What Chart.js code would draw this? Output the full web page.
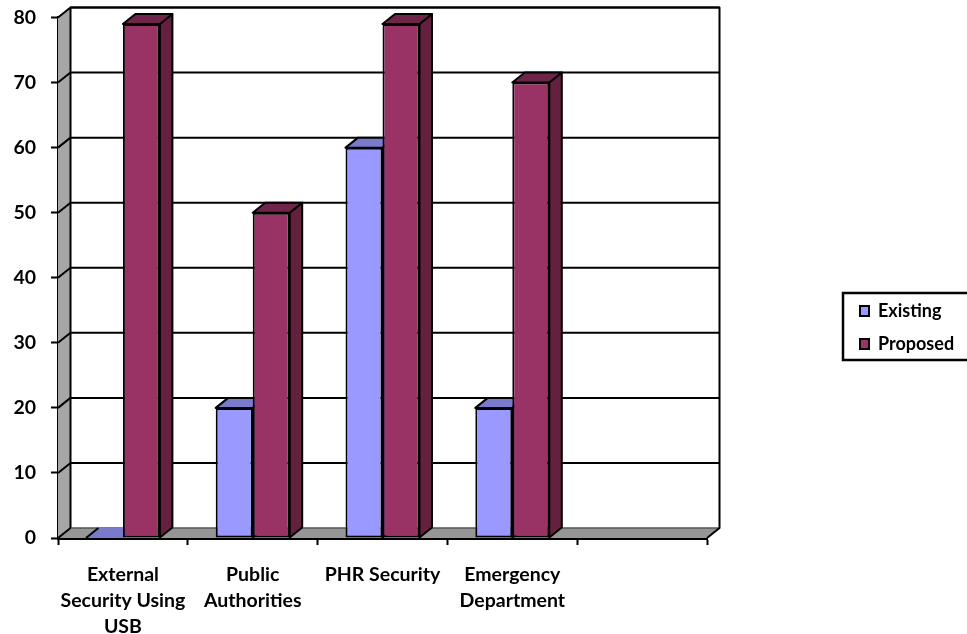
<!DOCTYPE html>
<html><head><meta charset="utf-8">
<style>html,body{margin:0;padding:0;background:#fff}canvas{display:block}</style>
<script src="https://cdn.jsdelivr.net/npm/chart.js@4/dist/chart.umd.min.js"></script>
</head><body><canvas id="c" width="967" height="634"></canvas>
<script>
const categories = [["External","Security Using","USB"],["Public","Authorities"],"PHR Security",["Emergency","Department"],""];
const existing = [0,20,60,20,null];
const proposed = [79,50,79,70,null];
const seriesNames = ["Existing","Proposed"];
const yTicks = [0,10,20,30,40,50,60,70,80];

const DX = 12.5, DY = 10;
const palette = [
  {front:"#9999ff", top:"#7a7acc", side:"#5c5c99"},
  {front:"#993366", top:"#6e2549", side:"#63203f"}
];
function poly(ctx, pts, fill, stroke, lw){
  ctx.beginPath();
  pts.forEach((p,i)=> i?ctx.lineTo(p[0],p[1]):ctx.moveTo(p[0],p[1]));
  ctx.closePath();
  if(fill){ctx.fillStyle=fill;ctx.fill();}
  if(stroke){ctx.strokeStyle=stroke;ctx.lineWidth=lw;ctx.stroke();}
}
const depth3d = {
  id:"depth3d",
  beforeLayout(chart){
    const lg = chart.legend;
    if(lg && !lg._wrapped){
      const f = lg.fit;
      lg.fit = function(){ f.call(this); this.width = 260; };
      lg._wrapped = true;
    }
  },
  afterLayout(chart){
    const lg = chart.legend;
    lg.left = 845; lg.right = 967; lg.width = 122;
    lg.top = 287; lg.bottom = 420; lg.height = 133;
    const y = chart.scales.y, a = chart.chartArea;
    y.top = 17.5; y.height = y.bottom - y.top; y.configure();
    a.top = y.top; a.height = a.bottom - a.top;
  },
  beforeDatasetsDraw(chart){
    const {ctx, scales:{x,y}, chartArea:a} = chart;
    const y0 = y.getPixelForValue(0), yT = y.getPixelForValue(80);
    ctx.save();
    ctx.lineJoin = "round";
    // side wall
    poly(ctx,[[a.left,yT],[a.left+DX,yT-DY],[a.left+DX,y0-DY],[a.left,y0]],"#a6a6a6");
    // floor
    poly(ctx,[[a.left,y0],[a.left+DX,y0-DY],[a.right+DX,y0-DY],[a.right,y0]],"#969696");
    ctx.strokeStyle="#555";ctx.lineWidth=1.5;
    ctx.beginPath();ctx.moveTo(a.left+DX,y0-DY);ctx.lineTo(a.right+DX,y0-DY);ctx.stroke();
    // back gridlines and wall gridlines
    ctx.strokeStyle="#000";ctx.lineWidth=2;
    yTicks.forEach(v=>{
      const p=y.getPixelForValue(v);
      ctx.beginPath();ctx.moveTo(a.left,p);ctx.lineTo(a.left+DX,p-DY);
      if(v>0) ctx.lineTo(a.right+DX,p-DY);
      ctx.stroke();
    });
    // back wall frame
    ctx.beginPath();
    ctx.moveTo(a.left+DX,y0-DY);ctx.lineTo(a.left+DX,yT-DY);ctx.lineTo(a.right+DX,yT-DY);
    ctx.lineTo(a.right+DX,y0-DY);ctx.lineTo(a.right,y0);ctx.stroke();
    // bar depth faces
    chart.data.datasets.forEach((ds,di)=>{
      chart.getDatasetMeta(di).data.forEach((bar,i)=>{
        if(ds.data[i]==null) return;
        const {x:cx,y:top,base,width}=bar.getProps(["x","y","base","width"]);
        const l=cx-width/2,r=cx+width/2,c=palette[di];
        if(ds.data[i]>0) poly(ctx,[[r,top],[r+DX,top-DY],[r+DX,base-DY],[r,base]],c.side,"#000",2);
        poly(ctx,[[l,top],[l+DX,top-DY],[r+DX,top-DY],[r,top]],c.top,ds.data[i]>0?"#000":null,2);
        if(!(ds.data[i]>0)){
          ctx.strokeStyle="#000";ctx.lineWidth=2;
          ctx.beginPath();ctx.moveTo(l,top);ctx.lineTo(l+DX,top-DY);ctx.stroke();
        }
      });
    });
    ctx.restore();
  },
  afterDraw(chart){
    const ctx=chart.ctx;
    ctx.save();
    ctx.strokeStyle="#000";ctx.lineWidth=2.5;
    ctx.strokeRect(843,293,130,67);
    ctx.restore();
  }
};
const font = {family:"Lato", weight:"bold", size:19.5};
new Chart(document.getElementById("c"),{
  type:"bar",
  data:{labels:categories,datasets:[
    {label:seriesNames[0],data:existing,backgroundColor:palette[0].front,borderColor:"#000",borderWidth:2,borderSkipped:false},
    {label:seriesNames[1],data:proposed,backgroundColor:palette[1].front,borderColor:"#000",borderWidth:2,borderSkipped:false}
  ]},
  plugins:[depth3d],
  options:{
    responsive:false,animation:false,
    layout:{autoPadding:false,padding:{top:12,left:0,right:0,bottom:0}},
    datasets:{bar:{categoryPercentage:0.57,barPercentage:1}},
    plugins:{
      tooltip:{enabled:false},
      legend:{position:"right",align:"start",labels:{color:"#000",boxWidth:9,boxHeight:10,padding:15,font:{family:"Lato",weight:"bold",size:18}}}
    },
    scales:{
      x:{
        afterFit(s){s.height=96;},
        grid:{display:true,drawOnChartArea:false,drawTicks:true,tickLength:7,tickWidth:2,tickColor:"#000",color:"#000"},
        border:{display:true,color:"#000",width:3},
        ticks:{color:"#000",font:{...font,lineHeight:1.333},padding:17,autoSkip:false,maxRotation:0,minRotation:0}
      },
      y:{
        min:0,max:80,
        afterFit(s){s.width=58;},
        grid:{display:true,drawOnChartArea:false,drawTicks:true,tickLength:7,tickWidth:2,tickColor:"#000",color:"#000"},
        border:{display:true,color:"#000",width:2.5},
        ticks:{color:"#000",font:{...font},padding:15,stepSize:10}
      }
    }
  }
});
</script></body></html>
